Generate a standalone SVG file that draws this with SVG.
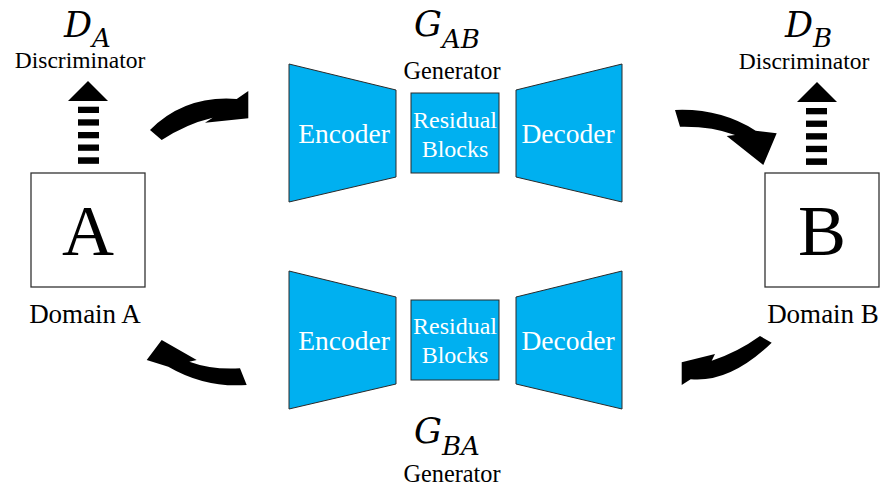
<svg xmlns="http://www.w3.org/2000/svg" width="882" height="487" viewBox="0 0 882 487">
<style>
.blk{fill:#00B0F0;stroke:#2a2a2a;stroke-width:1}
.box{fill:#fff;stroke:#333;stroke-width:1.3}
.lbl{font-family:'Liberation Serif','DejaVu Serif',serif;fill:#000;text-anchor:middle}
.wt{font-family:'Liberation Serif','DejaVu Serif',serif;fill:#fff;text-anchor:middle}
.math{font-family:'DejaVu Serif',serif;font-style:italic;fill:#000}
.arr{fill:#000}
</style>
<rect width="882" height="487" fill="#fff"/>

<g id="DA">
<text class="math" x="64" y="37" font-size="35">D<tspan font-size="26" dy="10">A</tspan></text>
<text class="lbl" x="80" y="68" font-size="23.5">Discriminator</text>
</g>

<g id="DB">
<text class="math" x="785" y="37" font-size="35">D<tspan font-size="26" dy="10">B</tspan></text>
<text class="lbl" x="804" y="69" font-size="23.5">Discriminator</text>
</g>

<g id="domainA">
<rect class="box" x="31" y="173" width="114" height="114"/>
<text class="lbl" x="88" y="255" font-size="72">A</text>
<text class="lbl" x="85" y="323" font-size="27">Domain A</text>
</g>

<g id="domainB">
<rect class="box" x="765" y="173" width="114" height="114"/>
<text class="lbl" x="822" y="255" font-size="72">B</text>
<text class="lbl" x="823" y="323" font-size="27">Domain B</text>
</g>

<g id="GAB">
<text class="math" x="414" y="36" font-size="35">G<tspan font-size="26" dy="12">AB</tspan></text>
<text class="lbl" x="452" y="79" font-size="24.3">Generator</text>
<g id="GAB-enc">
<polygon class="blk" points="289,64 396,90 396,177 289,202"/>
<text class="wt" x="344" y="143" font-size="27.5">Encoder</text>
</g>
<g id="GAB-res">
<rect class="blk" x="411" y="93" width="88" height="80"/>
<text class="wt" x="455" y="128" font-size="24">Residual</text>
<text class="wt" x="455" y="157" font-size="24">Blocks</text>
</g>
<g id="GAB-dec">
<polygon class="blk" points="516,90 622,64 622,202 516,177"/>
<text class="wt" x="568" y="143" font-size="27.5">Decoder</text>
</g>
</g>

<g id="GBA">
<g id="GBA-enc">
<polygon class="blk" points="289,271 396,297 396,384 289,409"/>
<text class="wt" x="344" y="350" font-size="27.5">Encoder</text>
</g>
<g id="GBA-res">
<rect class="blk" x="411" y="300" width="88" height="80"/>
<text class="wt" x="455" y="334" font-size="24">Residual</text>
<text class="wt" x="455" y="363" font-size="24">Blocks</text>
</g>
<g id="GBA-dec">
<polygon class="blk" points="516,297 622,271 622,409 516,384"/>
<text class="wt" x="568" y="350" font-size="27.5">Decoder</text>
</g>
<text class="math" x="414" y="443" font-size="35">G<tspan font-size="26" dy="12">BA</tspan></text>
<text class="lbl" x="452" y="482" font-size="24.3">Generator</text>
</g>

<g id="connectors">
<g id="disc-arrow-A" class="arr">
<polygon points="88,81 68,101 108,101"/>
<rect x="78" y="106.7" width="21" height="6.3"/>
<rect x="78" y="119.3" width="21" height="6.3"/>
<rect x="78" y="132" width="21" height="6.3"/>
<rect x="78" y="144.5" width="21" height="6.3"/>
<rect x="78" y="157.3" width="21" height="6.5"/>
</g>
<g id="disc-arrow-B" class="arr">
<polygon points="817,82 797,102 837,102"/>
<rect x="806" y="108" width="21" height="6.3"/>
<rect x="806" y="120.6" width="21" height="6.3"/>
<rect x="806" y="133.2" width="21" height="6.3"/>
<rect x="806" y="145.8" width="21" height="6.3"/>
<rect x="806" y="158.4" width="21" height="6.5"/>
</g>
<path class="arr" d="M150,130 Q185,95 236.7,99 L248.3,91 L248.3,118.3 L205,122.7 L212.7,117.7 Q186,124 161.7,140 Z"/>
<path class="arr" d="M675,110 Q720,108 755.7,130.7 L776.7,133.3 L763.3,165 L726.7,136 L735,135 Q712,126 680,126.7 Z"/>
<path class="arr" d="M240,368.3 Q212,370 189.3,361.7 L196.7,360 L161.7,340 L146.7,360 L168.3,366.7 Q205,388 246.7,385 Z"/>
<path class="arr" d="M760,336 Q738,352 711.7,360.7 L715,354 L681.7,362.3 L681.7,385 L690.7,379.3 Q730,383 771.7,342.7 Z"/>
</g>
</svg>
